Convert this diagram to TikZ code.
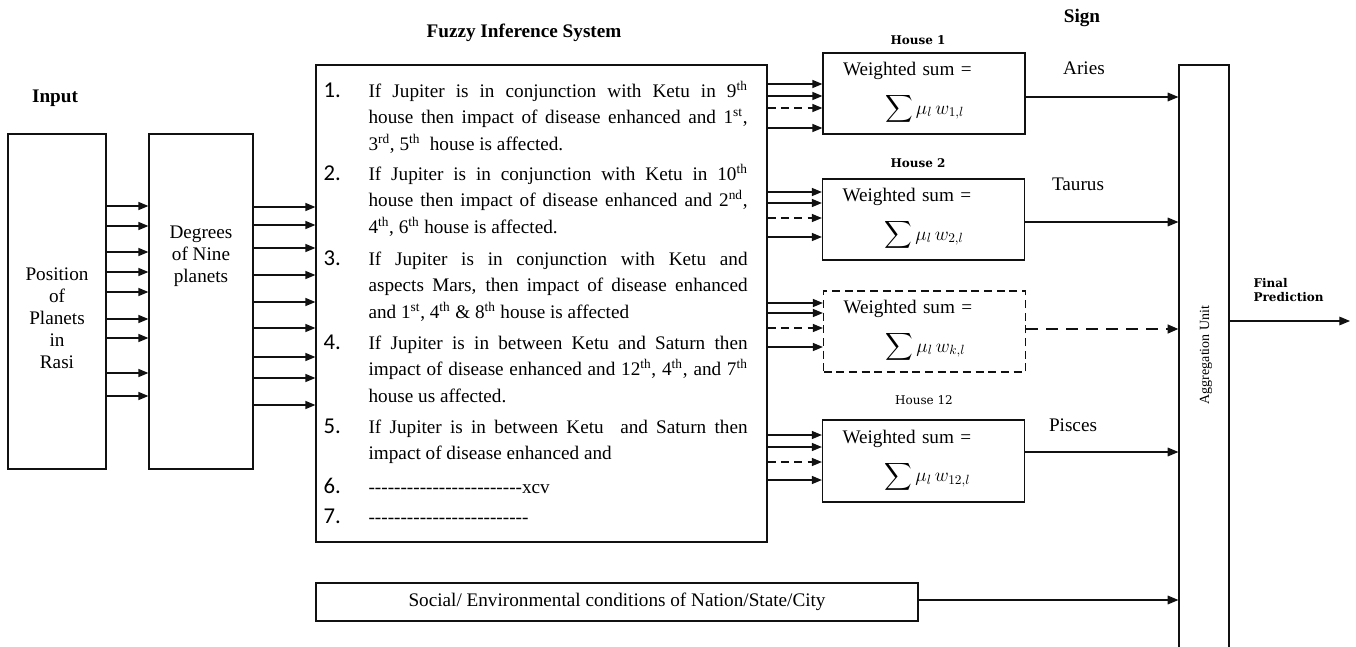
\documentclass[tikz,border=0pt]{standalone}
\usepackage{amsmath,exscale}
\usepackage{fontspec}
\setmainfont{Liberation Serif}
\newfontfamily\numfont{Carlito}
\newfontfamily\dvfont{DejaVu Serif}
\usepackage{xcolor}
\usepackage{tikz}
\usetikzlibrary{arrows.meta,positioning}
\definecolor{Ink}{HTML}{111111}
\newcommand{\bodyfont}{\fontsize{14.4}{19.7}\selectfont}
\newcommand{\hyph}[1]{\foreach \n in {1,...,#1}{-}}
\newcommand{\wsum}[1]{Weighted sum =\\[9pt]\hspace*{31.5pt}$\displaystyle\sum \mu_l\, w_{#1,l}$}
\tikzset{
  every picture/.style={line width=0.9pt},
  blockbox/.style={draw=Ink, inner sep=0pt},
  housebox/.style={
    blockbox,
    minimum width=151.5pt,
    minimum height=60.75pt,
    text width=121.5pt,
    align=left,
    font=\bodyfont
  },
  hiddenbox/.style={housebox, dash pattern=on 6pt off 3.5pt},
  boxtext/.style={align=center, inner sep=0pt, font=\fontsize{14.4}{16.5}\selectfont},
  ruletext/.style={anchor=north west, inner sep=0pt, text width=284.25pt, align=justify, font=\bodyfont},
  rulenum/.style={anchor=base west, inner sep=0pt, font=\numfont\fontsize{17}{20}\selectfont},
  titlelabel/.style={font=\bodyfont\bfseries, inner sep=0pt},
  houselabel/.style={font=\dvfont\bfseries\fontsize{9}{11}\selectfont, inner sep=0pt},
  signlabel/.style={font=\bodyfont, inner sep=0pt},
  flowarrow/.style={-{Triangle[length=7.5pt,width=6pt]}, draw=Ink, line width=1pt},
  dasharrow/.style={flowarrow, dash pattern=on 6pt off 4pt},
  outarrow/.style={-{Triangle[length=8pt,width=6.5pt]}, draw=Ink, line width=0.8pt},
  outdash/.style={outarrow, line width=1.5pt, dash pattern=on 9pt off 6pt}
}

\begin{document}
\begin{tikzpicture}[x=0.75pt,y=-0.75pt]
  \useasboundingbox (0,0) rectangle (1356,646);

  % input side
  \node[titlelabel] (inlbl) at (55,98) {Input};
  \node[blockbox, minimum width=73.5pt, minimum height=251.25pt] (pos) at (57,301.5) {};
  \node[boxtext] (postxt) at (57,318) {Position\\of\\Planets\\in\\Rasi};
  \node[blockbox, minimum width=78pt, minimum height=251.25pt] (deg) at (201,301.5) {};
  \node[boxtext] (degtxt) at (201,256) {Degrees\\of Nine\\planets};

  \foreach \y in {206,226,252,272,292,319,338,373,396}
    \draw[flowarrow] (pos.east |- 0,\y) -- (deg.west |- 0,\y);

  % fuzzy rules
  \node[titlelabel] (fislbl) at (524,33) {Fuzzy Inference System};
  \node[blockbox, minimum width=338.25pt, minimum height=357.75pt] (fis) at (541.5,303.5) {};

  \foreach \y in {207,225,248,275,302,328,357,378,405}
    \draw[flowarrow] (deg.east |- 0,\y) -- (fis.west |- 0,\y);

  \node[rulenum] (n1) at (323,97) {1.};
  \node[ruletext] (r1) at (368,78.6) {\strut If Jupiter is in conjunction with Ketu in 9\textsuperscript{th}\linebreak
    house then impact of disease enhanced and 1\textsuperscript{st},\linebreak
    3\textsuperscript{rd}, 5\textsuperscript{th}~ house is affected.};
  \node[rulenum] (n2) at (323,180) {2.};
  \node[ruletext] (r2) at (368,161.6) {\strut If Jupiter is in conjunction with Ketu in 10\textsuperscript{th}\linebreak
    house then impact of disease enhanced and 2\textsuperscript{nd},\linebreak
    4\textsuperscript{th}, 6\textsuperscript{th} house is affected.};
  \node[rulenum] (n3) at (323,265) {3.};
  \node[ruletext] (r3) at (368,246.6) {\strut If Jupiter is in conjunction with Ketu and\linebreak
    aspects Mars, then impact of disease enhanced\linebreak
    and 1\textsuperscript{st}, 4\textsuperscript{th} \& 8\textsuperscript{th} house is affected};
  \node[rulenum] (n4) at (323,349) {4.};
  \node[ruletext] (r4) at (368,330.6) {\strut If Jupiter is in between Ketu and Saturn then\linebreak
    impact of disease enhanced and 12\textsuperscript{th}, 4\textsuperscript{th}, and 7\textsuperscript{th}\linebreak
    house us affected.};
  \node[rulenum] (n5) at (323,433) {5.};
  \node[ruletext] (r5) at (368,414.6) {\strut If Jupiter is in between Ketu\ \ and Saturn then\linebreak
    impact of disease enhanced and};
  \node[rulenum] (n6) at (323,493) {6.};
  \node[ruletext] (r6) at (368,474.6) {\strut\hyph{24}xcv};
  \node[rulenum] (n7) at (323,523) {7.};
  \node[ruletext] (r7) at (368,504.6) {\strut\hyph{25}};

  % houses
  \node[houselabel] (h1lbl) at (918,40) {House 1};
  \node[housebox] (h1) at (924,93.5) {\wsum{1}};
  \node[houselabel] (h2lbl) at (918,163) {House 2};
  \node[housebox] (h2) at (923.5,219.5) {\wsum{2}};
  \node[hiddenbox] (hk) at (924.5,331.5) {\wsum{k}};
  \node[houselabel, font=\dvfont\fontsize{9}{11}\selectfont] (h12lbl) at (924,400) {House 12};
  \node[housebox, minimum height=61.5pt] (h12) at (923.5,461) {\wsum{12}};

  \foreach \y/\s in {84/flowarrow,96/flowarrow,108/dasharrow,128/flowarrow}
    \draw[\s] (fis.east |- 0,\y) -- (h1.west |- 0,\y);
  \foreach \y/\s in {192/flowarrow,203/flowarrow,218/dasharrow,237/flowarrow}
    \draw[\s] (fis.east |- 0,\y) -- (h2.west |- 0,\y);
  \foreach \y/\s in {303/flowarrow,313/flowarrow,328/dasharrow,347/flowarrow}
    \draw[\s] (fis.east |- 0,\y) -- (hk.west |- 0,\y);
  \foreach \y/\s in {435/flowarrow,447/flowarrow,462/dasharrow,480/flowarrow}
    \draw[\s] (fis.east |- 0,\y) -- (h12.west |- 0,\y);

  % signs and aggregation
  \node[titlelabel] (signlbl) at (1082,18) {Sign};
  \node[signlabel] (aries) at (1084,68) {Aries};
  \node[signlabel] (taurus) at (1078,184) {Taurus};
  \node[signlabel] (pisces) at (1073,425) {Pisces};

  \node[blockbox, minimum width=37.5pt, minimum height=440.25pt] (agg) at (1204,358.5) {};
  \node[rotate=90, inner sep=0pt, font=\fontsize{10.5}{12}\selectfont] (agglbl) at (1206,355) {Aggregation Unit};

  \draw[outarrow] (h1.east |- 0,97) -- (agg.west |- 0,97);
  \draw[outarrow] (h2.east |- 0,222) -- (agg.west |- 0,222);
  \draw[outdash] (hk.east |- 0,329) -- (agg.west |- 0,329);
  \draw[outarrow] (h12.east |- 0,452) -- (agg.west |- 0,452);

  \node[blockbox, minimum width=451.5pt, minimum height=28.5pt, font=\bodyfont] (soc) at (617,602) {Social/ Environmental conditions of Nation/State/City};
  \draw[outarrow] (soc.east |- 0,600) -- (agg.west |- 0,600);

  \coordinate (fpend) at (1350,321);
  \draw[outarrow] (agg.east |- fpend) -- (fpend);
  \node[houselabel, anchor=west, align=left] (fplbl) at (1253,290) {Final\\Prediction};
\end{tikzpicture}
\end{document}
